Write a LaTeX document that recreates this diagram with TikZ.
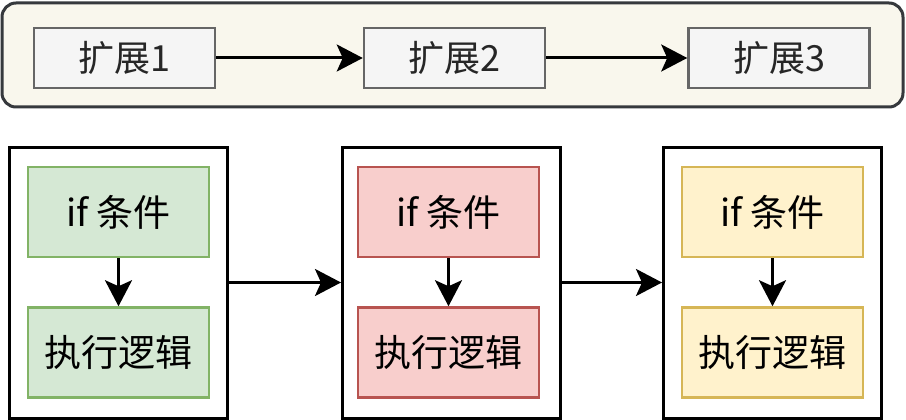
\documentclass[tikz,border=0pt]{standalone}
\usepackage{fontspec}
\setmainfont{Noto Sans CJK SC}
\usetikzlibrary{arrows.meta}
\definecolor{contfill}{HTML}{F9F7ED}
\definecolor{contline}{HTML}{36393D}
\definecolor{extfill}{HTML}{F5F5F5}
\definecolor{extline}{HTML}{666666}
\definecolor{gfill}{HTML}{D5E8D4}
\definecolor{gline}{HTML}{82B366}
\definecolor{rfill}{HTML}{F8CECC}
\definecolor{rline}{HTML}{B85450}
\definecolor{yfill}{HTML}{FFF2CC}
\definecolor{yline}{HTML}{D6B656}
\tikzset{
  extbox/.style={draw=extline, fill=extfill, line width=2.5pt, minimum width=181pt, minimum height=60pt, inner sep=0pt, font=\fontsize{36}{40}\selectfont, text=black!85},
  outerbox/.style={draw=black, line width=3pt, minimum width=218pt, minimum height=271pt, inner sep=0pt},
  innerbox/.style={line width=2.5pt, minimum width=181pt, minimum height=90pt, inner sep=0pt, font=\fontsize{37}{41}\selectfont},
  flow/.style={line width=3pt, -{Stealth[length=26pt,width=27pt,inset=6pt]}},
}
\begin{document}
\begin{tikzpicture}[x=1pt,y=-1pt]
\fill[white] (0,0) rectangle (906,420);
\useasboundingbox (0,0) rectangle (906,420);
\draw[contline, fill=contfill, line width=3pt, rounded corners=14pt] (2,3) rectangle (903,107);
\node[extbox] (e1) at (124.5,58) {扩展1};
\node[extbox] (e2) at (454.5,58) {扩展2};
\node[extbox] (e3) at (779,58) {扩展3};
\draw[flow] (e1) -- (e2);
\draw[flow] (e2) -- (e3);

\node[outerbox] (b1) at (118.5,282.5) {};
\node[outerbox] (b2) at (451.5,282.5) {};
\node[outerbox] (b3) at (772.5,282.5) {};

\node[innerbox, draw=gline, fill=gfill] (c1) at (118.5,212) {if 条件};
\node[innerbox, draw=gline, fill=gfill] (x1) at (118.5,352.5) {执行逻辑};
\node[innerbox, draw=rline, fill=rfill] (c2) at (448.5,212) {if 条件};
\node[innerbox, draw=rline, fill=rfill] (x2) at (448.5,352.5) {执行逻辑};
\node[innerbox, draw=yline, fill=yfill] (c3) at (772.5,212) {if 条件};
\node[innerbox, draw=yline, fill=yfill] (x3) at (772.5,352.5) {执行逻辑};

\draw[flow] (c1) -- (x1);
\draw[flow] (c2) -- (x2);
\draw[flow] (c3) -- (x3);
\draw[flow] (b1) -- (b2);
\draw[flow] (b2) -- (b3);
\end{tikzpicture}
\end{document}
